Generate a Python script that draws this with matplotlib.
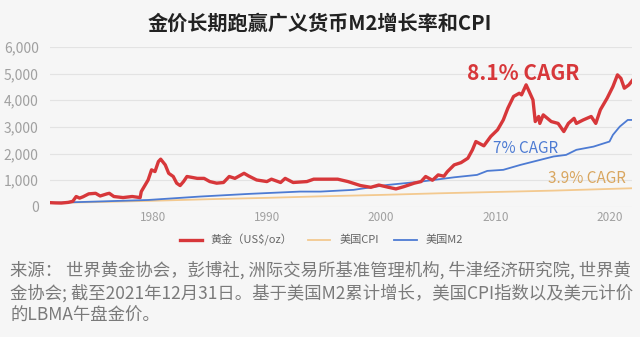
import numpy as np
import matplotlib
matplotlib.use("Agg")
import matplotlib.pyplot as plt

plt.rcParams['font.family'] = ['Noto Sans CJK SC', 'DejaVu Sans']

# gold (index)
gold_year = [1971.0, 1971.5, 1972.0, 1972.6, 1973.0, 1973.3, 1973.6, 1973.9, 1974.4, 1975.0,
             1975.4, 1976.0, 1976.2, 1976.6, 1977.4, 1978.2, 1978.9, 1979.0, 1979.6, 1979.9,
             1980.2, 1980.5, 1980.7, 1981.1, 1981.4, 1981.8, 1982.1, 1982.4, 1982.7, 1983.0,
             1983.4, 1983.9, 1984.5, 1985.0, 1985.6, 1986.2, 1986.7, 1987.2, 1988.0, 1988.4,
             1989.1, 1990.0, 1990.4, 1991.2, 1991.6, 1992.3, 1993.5, 1994.1, 1994.7, 1996.2,
             1997.1, 1998.2, 1999.1, 1999.8, 2000.6, 2001.3, 2002.0, 2002.9, 2003.5, 2003.9,
             2004.5, 2005.0, 2005.5, 2005.8, 2006.4, 2007.0, 2007.6, 2008.0, 2008.3, 2009.0,
             2009.6, 2010.2, 2010.7, 2011.1, 2011.6, 2012.1, 2012.3, 2012.7, 2012.9, 2013.3,
             2013.5, 2013.8, 2013.9, 2014.2, 2014.9, 2015.5, 2016.0, 2016.4, 2016.9, 2017.1,
             2017.7, 2018.4, 2018.8, 2019.2, 2019.8, 2020.3, 2020.7, 2021.0, 2021.3, 2021.7,
             2022.0]
gold_val = [160, 150, 145, 170, 210, 390, 330, 380, 490, 510,
            410, 490, 510, 390, 350, 390, 350, 575, 1010, 1390,
            1325, 1700, 1790, 1575, 1260, 1140, 890, 800, 950, 1140,
            1110, 1070, 1070, 950, 890, 915, 1140, 1070, 1260, 1160,
            1010, 950, 1040, 915, 1070, 915, 950, 1040, 1040, 1040,
            950, 800, 735, 820, 740, 675, 760, 890, 950, 1140,
            1000, 1200, 1150, 1320, 1575, 1660, 1825, 2140, 2450, 2290,
            2640, 2890, 3260, 3700, 4140, 4260, 4200, 4575, 4390, 4010,
            3200, 3390, 3130, 3450, 3200, 3130, 2825, 3130, 3320, 3130,
            3260, 3390, 3130, 3640, 4080, 4510, 4950, 4820, 4450, 4575,
            4740]

m2_year = [1971.0, 1975.0, 1979.6, 1984.2, 1988.5, 1992.9, 1994.7, 1997.6, 1999.1, 2000.6,
           2003.5, 2006.4, 2008.4, 2009.3, 2010.7, 2012.2, 2015.1, 2016.2, 2017.1, 2018.6,
           2020.0, 2020.3, 2020.9, 2021.6, 2022.0]
m2_val = [150, 200, 260, 390, 490, 575, 575, 640, 735, 825,
          950, 1110, 1200, 1350, 1390, 1575, 1890, 1950, 2140, 2260,
          2450, 2700, 3010, 3260, 3260]

cpi_year = [1971, 1975, 1980, 1985, 1990, 1995, 2000, 2005, 2010, 2015, 2022]
cpi_val = [150, 180, 230, 290, 340, 400, 450, 510, 560, 610, 700]

red = '#d7373a'
blue = '#4d7bd3'
tan = '#f3c98f'
bg = '#f6f6f6'

fig = plt.figure(figsize=(6.4, 3.37), dpi=100, facecolor=bg)
ax = fig.add_axes([0.078, 0.386, 0.91, 0.475], facecolor=bg)

ax.plot(cpi_year, cpi_val, color=tan, lw=1.3, label='美国CPI', zorder=2)
ax.plot(m2_year, m2_val, color=blue, lw=1.3, label='美国M2', zorder=3)
ax.plot(gold_year, gold_val, color=red, lw=2.4, label='黄金（US$/oz）', zorder=4)

ax.set_xlim(1971, 2022)
ax.set_ylim(0, 6000)
ax.set_yticks(range(0, 6001, 1000))
ax.set_yticklabels(['0', '1,000', '2,000', '3,000', '4,000', '5,000', '6,000'])
ax.set_xticks([1980, 1990, 2000, 2010, 2020])
ax.grid(axis='y', color='#e3e3e3', lw=0.8)
ax.set_axisbelow(True)
for s in ax.spines.values():
    s.set_visible(False)
ax.tick_params(axis='y', length=0, pad=8, labelsize=10, labelcolor='#a0a0a0')
ax.tick_params(axis='x', length=0, pad=3, labelsize=8.5, labelcolor='#a0a0a0')

ax.text(2007.55, 5000, '8.1% CAGR', color=red, fontsize=15, fontweight='bold', va='center')
ax.text(2009.8, 2200, '7% CAGR', color=blue, fontsize=11, va='center')
ax.text(2014.6, 1080, '3.9% CAGR', color='#d9a65f', fontsize=11, va='center')

fig.text(0.5, 0.93, '金价长期跑赢广义货币M2增长率和CPI', ha='center', va='center',
         fontsize=14.5, fontweight='bold', color='#222222')

h, l = ax.get_legend_handles_labels()
order = [2, 0, 1]
fig.legend([h[i] for i in order], [l[i] for i in order], loc='center',
           bbox_to_anchor=(0.502, 0.288), ncol=3, frameon=False, fontsize=8,
           labelcolor='#666666', handlelength=2.0, columnspacing=1.4)

notes = ['来源： 世界黄金协会，彭博社, 洲际交易所基准管理机构, 牛津经济研究院, 世界黄',
         '金协会; 截至2021年12月31日。基于美国M2累计增长，美国CPI指数以及美元计价',
         '的LBMA午盘金价。']
for i, t in enumerate(notes):
    fig.text(0.016, 1 - (270 + 23 * i) / 337, t, ha='left', va='center',
             fontsize=12.5, color='#7a7a7a')

fig.savefig('out.png', dpi=100, facecolor=bg)
